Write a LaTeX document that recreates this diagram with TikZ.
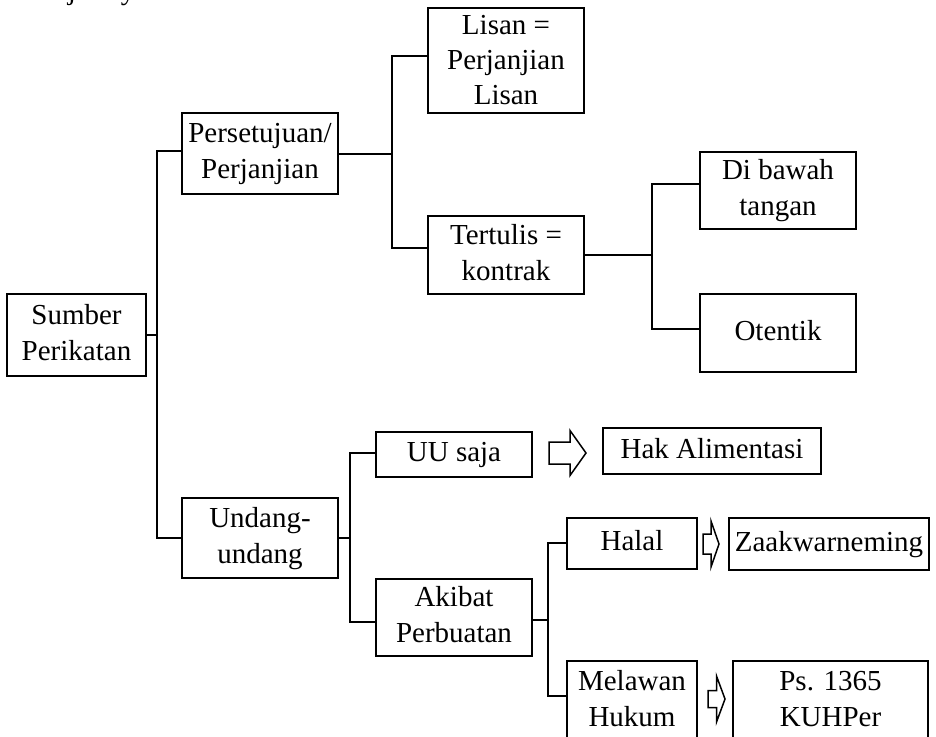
\documentclass[tikz,border=0pt]{standalone}
\usepackage{fontspec}
\setmainfont{Liberation Serif}
\begin{document}
\begin{tikzpicture}[x=1pt,y=-1pt,
  txt/.style={font=\fontsize{29}{36}\selectfont},
  box/.style={draw, line width=1.8pt, inner sep=0pt, align=center, txt},
  conn/.style={line width=1.8pt},
  pics/barrow/.style n args={4}{code={
    \draw[line width=1.5pt, line join=miter]
      (0,-#2) -- (#3,-#2) -- (#3,-#4) -- (#1,0) -- (#3,#4) -- (#3,#2) -- (0,#2) -- cycle;}}
]
\useasboundingbox (0,0) rectangle (936,736);

% cut-off fragments of a text line above
\node[txt, anchor=base, inner sep=0pt] (frag1) at (72,-1) {j};
\node[txt, anchor=base, inner sep=0pt] (frag2) at (128,-1) {y};

% boxes
\node[box, minimum width=139pt, minimum height=82pt] (sumber) at (76.5,335) {\strut Sumber\\\strut Perikatan};
\node[box, minimum width=156pt, minimum height=81pt] (pers) at (260,153.5) {\strut Persetujuan/\\\strut Perjanjian};
\node[box, minimum width=156pt, minimum height=80pt] (undang) at (260,538) {\strut Undang-\\\strut undang};
\node[box, minimum width=156pt, minimum height=105pt, font=\fontsize{29}{35}\selectfont] (lisan) at (506,60.5) {Lisan =\\Perjanjian\\Lisan};
\node[box, minimum width=156pt, minimum height=78pt] (tertulis) at (506,255) {\strut Tertulis =\\\strut kontrak};
\node[box, minimum width=156pt, minimum height=77pt] (dibawah) at (778,190.5) {\strut Di bawah\\\strut tangan};
\node[box, minimum width=156pt, minimum height=78pt] (otentik) at (778,333) {\strut Otentik};
\node[box, minimum width=156pt, minimum height=45pt] (uu) at (454,454.5) {\strut UU saja};
\node[box, minimum width=218pt, minimum height=46pt] (hak) at (712,451) {\strut Hak Alimentasi};
\node[box, minimum width=156pt, minimum height=77pt] (akibat) at (454,617.5) {\strut Akibat\\\strut Perbuatan};
\node[box, minimum width=130pt, minimum height=51pt] (halal) at (632,543.5) {\strut Halal};
\node[box, minimum width=200pt, minimum height=52pt] (zaak) at (829,544) {\strut Zaakwarneming};
\node[box, minimum width=130pt, minimum height=80pt] (melawan) at (632,701) {\strut Melawan\\\strut Hukum};
\node[box, minimum width=195pt, minimum height=80pt] (ps) at (830.5,701) {\strut Ps. 1365\\\strut KUHPer};

% junctions
\coordinate (j1) at (157,335);
\coordinate (j2) at (392,154);
\coordinate (j3) at (652,255);
\coordinate (j4) at (350,538);
\coordinate (j5) at (548,620);

% connectors
\draw[conn] (sumber.east) -- (j1);
\draw[conn] ([yshift=2.5pt]pers.west) -| (j1) |- (undang.west);
\draw[conn] ([yshift=-0.5pt]pers.east) -- (j2);
\draw[conn] ([yshift=4.5pt]lisan.west) -| (j2) |- ([yshift=7pt]tertulis.west);
\draw[conn] (tertulis.east) -- (j3);
\draw[conn] ([yshift=6.5pt]dibawah.west) -| (j3) |- ([yshift=4pt]otentik.west);
\draw[conn] (undang.east) -- (j4);
\draw[conn] ([yshift=1.5pt]uu.west) -| (j4) |- ([yshift=-4.5pt]akibat.west);
\draw[conn] ([yshift=-2.5pt]akibat.east) -- (j5);
\draw[conn] ([yshift=0.5pt]halal.west) -| (j5) |- ([yshift=5pt]melawan.west);

% block arrows
\pic at (549,453) {barrow={37}{11}{21}{22.5}};
\pic at (703,544) {barrow={16}{10}{8}{23}};
\pic at (708,699) {barrow={17}{8.5}{8.5}{23}};
\end{tikzpicture}
\end{document}
